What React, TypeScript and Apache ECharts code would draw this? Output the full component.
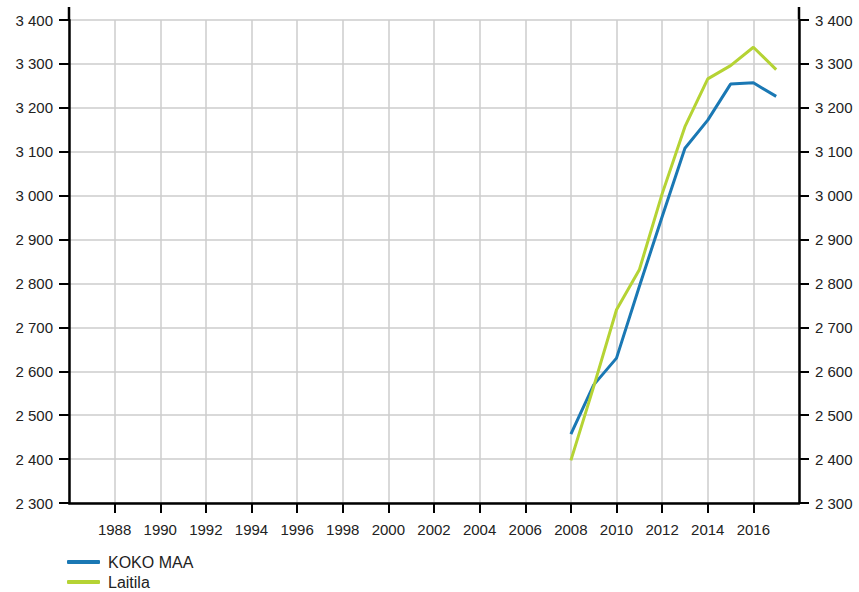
import React, { useEffect, useRef } from "react";
import * as echarts from "echarts";

const years = [2008, 2009, 2010, 2011, 2012, 2013, 2014, 2015, 2016, 2017];
const kokoMaa = [2457, 2569, 2630, 2793, 2952, 3108, 3172, 3254, 3257, 3226];
const laitila = [2397, 2565, 2740, 2831, 3004, 3157, 3266, 3296, 3338, 3287];
const seriesNames = ["KOKO MAA", "Laitila"];
const colors = ["#1a78b4", "#b5d334"];

const fmtY = (v: number) => {
  const s = String(Math.round(v));
  return s.replace(/\B(?=(\d{3})+(?!\d))/g, " ");
};

const FONT = "'Liberation Sans', Arial, sans-serif";

export default function App() {
  const ref = useRef<HTMLDivElement>(null);
  useEffect(() => {
    if (!ref.current) return;
    const chart = echarts.init(ref.current, undefined, { renderer: "svg" });
    const yAxisCommon = {
      type: "value" as const,
      min: 2300,
      max: 3400,
      interval: 100,
      axisLine: { show: true, lineStyle: { color: "#000", width: 2.5 } },
      axisTick: { show: true, length: 10, lineStyle: { color: "#000", width: 2 } },
      axisLabel: { formatter: fmtY, color: "#222", fontSize: 15, fontFamily: FONT, margin: 16 },
    };
    const legendCommon = {
      orient: "vertical" as const,
      left: 67,
      padding: 0,
      icon: "roundRect",
      itemWidth: 33,
      itemHeight: 4,
      textStyle: { color: "#222", fontSize: 16, fontFamily: FONT, padding: [0, 0, 0, 3] },
    };
    chart.setOption({
      animation: false,
      grid: { left: 69, right: 60, top: 20, bottom: 89, containLabel: false },
      legend: [
        { ...legendCommon, top: 554, data: [seriesNames[0]] },
        { ...legendCommon, top: 574, data: [seriesNames[1]] },
      ],
      xAxis: {
        type: "value",
        min: 1986,
        max: 2018,
        interval: 2,
        axisLine: { show: true, onZero: false, lineStyle: { color: "#000", width: 2.5 } },
        axisTick: { show: true, length: 10, lineStyle: { color: "#000", width: 2 } },
        axisLabel: {
          showMinLabel: false,
          showMaxLabel: false,
          color: "#222",
          fontSize: 15,
          fontFamily: FONT,
          margin: 19,
          formatter: (v: number) => String(v),
        },
        splitLine: { show: true, lineStyle: { color: "#cccccc", width: 1.5 } },
      },
      yAxis: [
        {
          ...yAxisCommon,
          position: "left",
          splitLine: { show: true, lineStyle: { color: "#cccccc", width: 1.5 } },
        },
        {
          ...yAxisCommon,
          position: "right",
          splitLine: { show: false },
        },
      ],
      graphic: [
        { type: "line", shape: { x1: 69, y1: 7, x2: 69, y2: 20 }, style: { stroke: "#000", lineWidth: 2.5 } },
        { type: "line", shape: { x1: 799, y1: 7, x2: 799, y2: 20 }, style: { stroke: "#000", lineWidth: 2.5 } },
      ],
      series: [
        {
          name: seriesNames[0],
          type: "line",
          yAxisIndex: 0,
          data: years.map((y, i) => [y, kokoMaa[i]]),
          showSymbol: false,
          symbol: "none",
          lineStyle: { color: colors[0], width: 3 },
          itemStyle: { color: colors[0] },
          z: 3,
        },
        {
          name: seriesNames[1],
          type: "line",
          yAxisIndex: 0,
          data: years.map((y, i) => [y, laitila[i]]),
          showSymbol: false,
          symbol: "none",
          lineStyle: { color: colors[1], width: 3 },
          itemStyle: { color: colors[1] },
          z: 4,
        },
      ],
    });
    return () => chart.dispose();
  }, []);
  return (
    <div
      ref={ref}
      style={{ position: "fixed", left: 0, top: 0, width: 859, height: 592, background: "#fff" }}
    />
  );
}
